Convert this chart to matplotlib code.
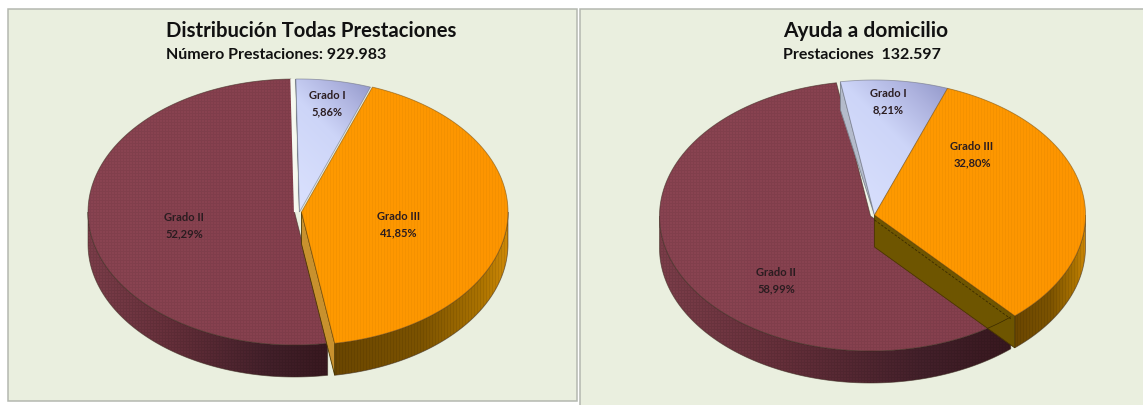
#!/usr/bin/env python3
import matplotlib
matplotlib.use('Agg')
import matplotlib.pyplot as plt
import numpy as np
from matplotlib.colors import to_rgb
from matplotlib.patches import PathPatch, Polygon, Rectangle
from matplotlib.path import Path

plt.rcParams['font.family'] = ['Lato', 'DejaVu Sans']

W, H = 1143, 405

# order of the slices going clockwise from the top
GRADES = ['Grado I', 'Grado III', 'Grado II']
SHARES_ALL = [5.86, 41.85, 52.29]
SHARES_HOME = [8.21, 32.80, 58.99]
TITLE_ALL = 'Distribución Todas Prestaciones'
SUB_ALL = 'Número Prestaciones: 929.983'
TITLE_HOME = 'Ayuda a domicilio'
SUB_HOME = 'Prestaciones  132.597'

PANEL = '#eaefdf'
BORDER = '#b4b8b0'


def rim(c, rx, ry, deg):
    a = np.radians(deg)
    return c[0] + rx * np.sin(a), c[1] - ry * np.cos(a)


def arc(c, rx, ry, a, b):
    x, y = rim(c, rx, ry, np.linspace(a, b, 120))
    return np.column_stack([x, y])


def shade(ax, pts, stops, direction=(1, 0), texture=None, amount=0.05, zorder=2):
    # paints a gradient clipped to a polygon, with an optional fine weave on top
    pts = np.asarray(pts)
    x0, y0 = np.floor(pts.min(axis=0))
    x1, y1 = np.ceil(pts.max(axis=0))
    xs, ys = np.meshgrid(np.arange(x0, x1 + 1), np.arange(y0, y1 + 1))
    t = xs * direction[0] + ys * direction[1]
    t = (t - t.min()) / max(t.max() - t.min(), 1)
    pos = [s[0] for s in stops]
    cols = np.array([to_rgb(s[1]) for s in stops])
    img = np.dstack([np.interp(t, pos, cols[:, i]) for i in range(3)])
    if texture == 'stripes':
        img = img * (1 - amount * (xs % 3 == 0))[..., None]
    elif texture == 'weave':
        img = img * (1 - amount * ((xs % 3 == 0) | (ys % 3 == 0)))[..., None]
    im = ax.imshow(img, extent=(x0 - 0.5, x1 + 0.5, y1 + 0.5, y0 - 0.5),
                   aspect='auto', interpolation='bilinear', zorder=zorder)
    patch = PathPatch(Path(np.vstack([pts, pts[:1]]), closed=True), transform=ax.transData)
    im.set_clip_path(patch)


def outline(ax, pts, color='#3c2a20', lw=0.6, alpha=0.6, zorder=2):
    ax.add_patch(Polygon(pts, closed=True, fill=False, edgecolor=color, lw=lw,
                         alpha=alpha, zorder=zorder))


def pie3d(ax, shares, c, rx, ry, depth, start, offsets, face_color, sliver, gap_lw, dashed=False):
    # slice angles come from the shares, clockwise from the start angle
    edges = start + np.cumsum([0] + list(shares)) * 3.6
    blue = (edges[0], edges[1])
    orange = (edges[1], edges[2])
    maroon = (edges[2], edges[3])
    cb = (c[0] + offsets[0][0], c[1] + offsets[0][1])
    co = (c[0] + offsets[1][0], c[1] + offsets[1][1])
    cm = (c[0] + offsets[2][0], c[1] + offsets[2][1])

    # outer walls, only the front half can be seen
    def wall(cc, a, b):
        top = arc(cc, rx, ry, max(a, 90), min(b, 270))
        return np.vstack([top, (top + [0, depth])[::-1]])

    wm = wall(cm, *maroon)
    shade(ax, wm, [(0, '#7c3e4a'), (0.35, '#652f3a'), (0.75, '#43202a'), (1, '#38181f')],
          texture='weave', amount=0.08, zorder=2)
    outline(ax, wm, zorder=2.1)
    wo = wall(co, *orange)
    shade(ax, wo, [(0, '#6a4600'), (0.5, '#7c5300'), (0.85, '#ad7400'), (1, '#d08a08')],
          texture='stripes', amount=0.08, zorder=2)
    outline(ax, wo, zorder=2.1)

    # top of the big slice
    tm = np.vstack([[cm], arc(cm, rx, ry, *maroon)])
    shade(ax, tm, [(0, '#8a4452'), (1, '#86404e')], texture='weave', amount=0.06, zorder=3)
    outline(ax, tm, zorder=3.1)

    # cut face of the small slice, seen as a thin grey band
    rb = np.array(rim(cb, rx, ry, blue[0]))
    rm = rim(cm, rx, ry, maroon[1])
    ax.plot([rm[0] + 1.5, cm[0] + 1.5], [rm[1], cm[1]], color='#f6f8f0', lw=gap_lw,
            solid_capstyle='butt', zorder=3.2)
    ax.add_patch(Polygon([cb, rb, rb + [0, sliver]], closed=True, fc='#b4bbcb',
                         ec='#7d8590', lw=0.6, zorder=3.3))

    tb = np.vstack([[cb], arc(cb, rx, ry, *blue)])
    shade(ax, tb, [(0, '#dbe2fe'), (0.55, '#cdd5f8'), (0.8, '#aeb3df'), (1, '#9096c8')],
          direction=(1, -1), zorder=4)
    outline(ax, tb, color='#6d7080', zorder=4.1)

    # cut face of the orange slice, it sits over the big slice
    ro = np.array(rim(co, rx, ry, orange[1]))
    face = [co, ro, ro + [0, depth], np.array(co) + [0, depth]]
    ax.add_patch(Polygon(face, closed=True, fc=face_color, ec='#4a3600', lw=0.6, zorder=5))
    if dashed:
        ax.plot([co[0], ro[0] - 4], [co[1] + 5, ro[1] + 3], color='#3a2a00', lw=0.6,
                ls=(0, (3, 2)), zorder=5.1)
        rim_line = arc(cm, rx, ry, maroon[0], maroon[0] + 8)
        ax.plot(rim_line[:, 0], rim_line[:, 1], color='#3a2a00', lw=0.5, zorder=5.1)

    to = np.vstack([[co], arc(co, rx, ry, *orange)])
    shade(ax, to, [(0, '#ff9a00'), (1, '#fd9500')], texture='stripes', amount=0.035, zorder=6)
    outline(ax, to, color='#7a5010', zorder=6.1)


def labels(ax, names, shares, spots):
    for name, share, (x, y) in zip(names, shares, spots):
        txt = f'{name}\n{share:.2f}%'.replace('.', ',')
        ax.text(x, y, txt, ha='center', va='center', fontsize=8, fontweight='bold',
                color='#2a1c20', linespacing=1.6, zorder=8)


fig = plt.figure(figsize=(W / 100, H / 100), dpi=100, facecolor='white')
ax = fig.add_axes([0, 0, 1, 1])
ax.axis('off')

# the two chart panels
ax.add_patch(Rectangle((7.5, 8.5), 569.5, 392.5, fc=PANEL, ec=BORDER, lw=1.1, zorder=1))
ax.add_patch(Rectangle((579.5, 8.5), 600, 420, fc=PANEL, ec=BORDER, lw=1.1, zorder=1))

pie3d(ax, SHARES_ALL, (296.5, 212), 206.5, 133, 32, -1,
      [(3, 0), (5, 0), (-2, 0)], '#c8912e', 4, 3)
pie3d(ax, SHARES_HOME, (872.5, 215), 211, 135, 32, -9.3,
      [(2, 0), (2, 0), (-2, 1)], '#6e5500', 28, 0.6, dashed=True)

labels(ax, GRADES, SHARES_ALL, [(327, 103.5), (399, 225), (184, 226)])
labels(ax, GRADES, SHARES_HOME, [(888, 102), (972, 155), (776, 281)])

ax.text(166, 31, TITLE_ALL, ha='left', va='center', fontsize=14.6, fontweight='bold', color='#111111', zorder=8)
ax.text(166, 55, SUB_ALL, ha='left', va='center', fontsize=11.5, fontweight='bold', color='#111111', zorder=8)
ax.text(865.5, 31, TITLE_HOME, ha='center', va='center', fontsize=15, fontweight='bold', color='#111111', zorder=8)
ax.text(862, 55, SUB_HOME, ha='center', va='center', fontsize=11.5, fontweight='bold', color='#111111', zorder=8)

ax.set_xlim(0, W)
ax.set_ylim(H, 0)
fig.savefig('out.png', dpi=100)
plt.close(fig)
